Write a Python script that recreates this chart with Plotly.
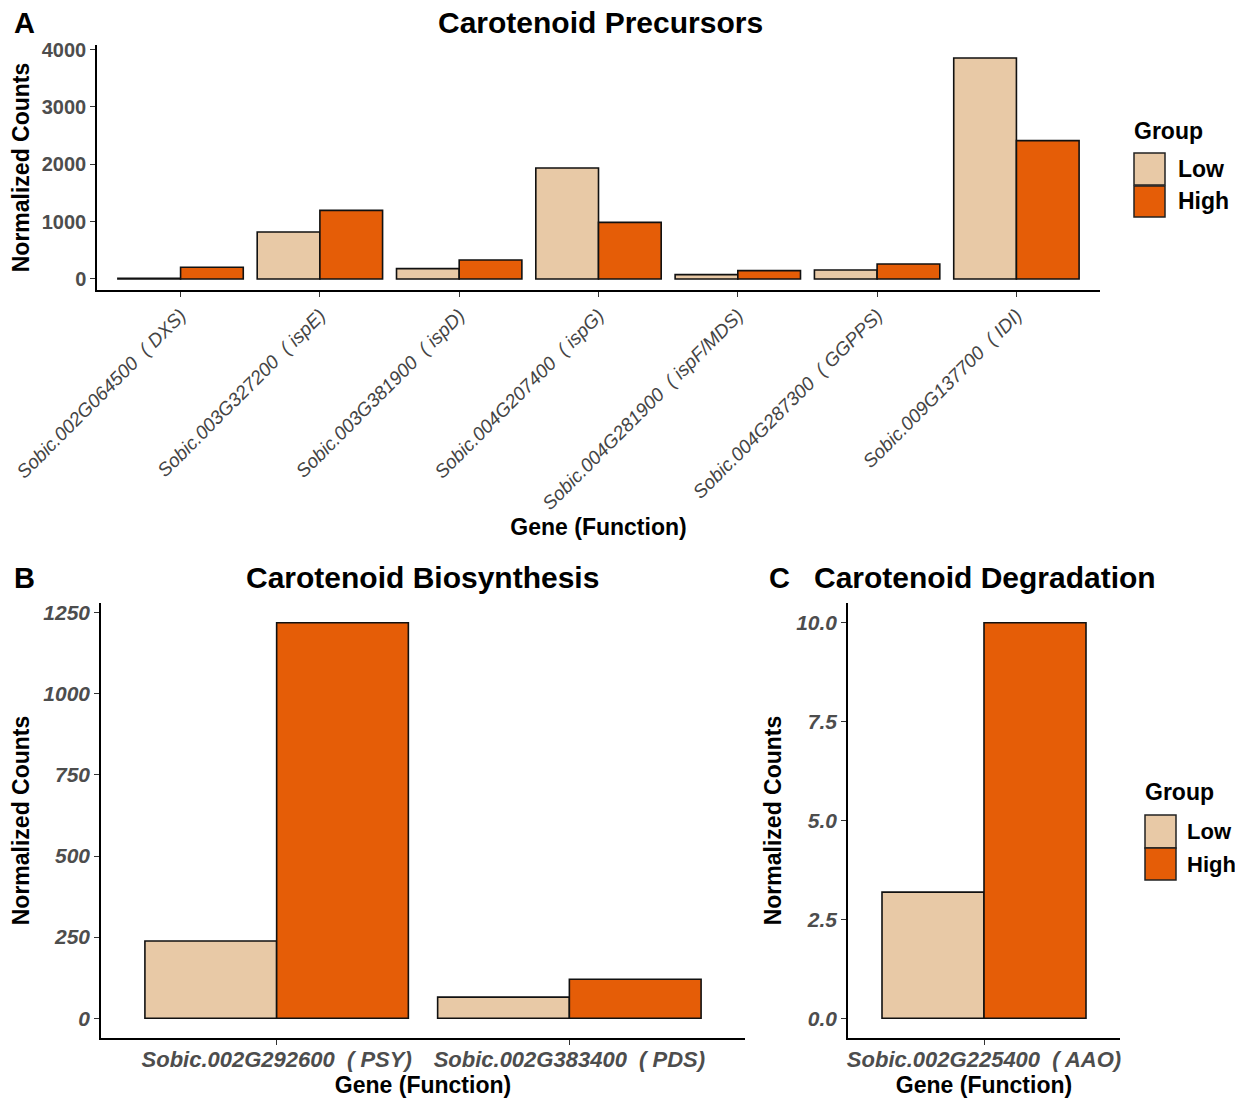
import plotly.graph_objects as go

# ---------------- data ----------------
groups = ["Low", "High"]
colors = {"Low": "#E8C9A6", "High": "#E55D07"}

genes_a = ["Sobic.002G064500  ( DXS)", "Sobic.003G327200  ( ispE)", "Sobic.003G381900  ( ispD)",
           "Sobic.004G207400  ( ispG)", "Sobic.004G281900  ( ispF/MDS)", "Sobic.004G287300  ( GGPPS)",
           "Sobic.009G137700  ( IDI)"]
low_a = [10, 819, 180, 1936, 76, 157, 3854]
high_a = [204, 1197, 331, 988, 145, 262, 2412]

genes_b = ["Sobic.002G292600  ( PSY)", "Sobic.002G383400  ( PDS)"]
low_b = [238, 65]
high_b = [1219, 120]

genes_c = ["Sobic.002G225400  ( AAO)"]
low_c = [3.19]
high_c = [10.0]

FONT = "Liberation Sans, Arial, sans-serif"
OFF = 8  # page body margin
W, H = 1243 - 2 * OFF, 1099 - OFF

fig = go.Figure()

def add_bars(cats, low, high, xa, ya):
    for g, vals in (("Low", low), ("High", high)):
        fig.add_trace(go.Bar(x=cats, y=vals, name=g, marker=dict(color=colors[g], line=dict(color="#111111", width=1.6)),
                             xaxis=xa, yaxis=ya, showlegend=False, offsetgroup=g))

add_bars(genes_a, low_a, high_a, "x", "y")
add_bars(genes_b, low_b, high_b, "x2", "y2")
add_bars(genes_c, low_c, high_c, "x3", "y3")

def px_x(v):
    return (v - OFF) / W

def px_y(v):
    return 1 - (v - OFF) / H

axis_common = dict(showline=True, linecolor="black", linewidth=1.5, ticks="outside", ticklen=5,
                   tickcolor="#333333", tickwidth=1.2, showgrid=False, zeroline=False, automargin=False)

bold_title = dict(family=FONT, size=23, color="black", weight="bold")

fig.update_layout(
    template="none",
    width=W, height=H, margin=dict(l=0, r=0, t=0, b=0),
    plot_bgcolor="white", paper_bgcolor="white",
    barmode="group", bargap=0.1, bargroupgap=0,
    font=dict(family=FONT),
    xaxis=dict(domain=[px_x(97), px_x(1100)], anchor="y", type="category",
               range=[-0.6, len(genes_a) - 0.4], tickangle=-45,
               tickfont=dict(family=FONT, size=19, color="#444444", style="italic"),
               title=dict(text="Gene (Function)", font=bold_title, standoff=2), **axis_common),
    yaxis=dict(domain=[px_y(290), px_y(45)], anchor="x", range=[-192, 4080],
               tickvals=[0, 1000, 2000, 3000, 4000],
               tickfont=dict(family=FONT, size=20, color="#4D4D4D", weight="bold"),
               title=dict(text="Normalized Counts", font=bold_title, standoff=6), **axis_common),
    xaxis2=dict(domain=[px_x(101), px_x(745)], anchor="y2", type="category",
                range=[-0.6, len(genes_b) - 0.4], ticklabelstandoff=-4,
                tickfont=dict(family=FONT, size=22, color="#4D4D4D", style="italic", weight="bold"),
                title=dict(text="Gene (Function)", font=bold_title, standoff=0), **axis_common),
    yaxis2=dict(domain=[px_y(1038), px_y(603)], anchor="x2", range=[-61, 1280],
                tickvals=[0, 250, 500, 750, 1000, 1250],
                tickfont=dict(family=FONT, size=21, color="#4D4D4D", style="italic", weight="bold"),
                title=dict(text="Normalized Counts", font=bold_title, standoff=8), **axis_common),
    xaxis3=dict(domain=[px_x(848), px_x(1120)], anchor="y3", type="category",
                range=[-0.6, len(genes_c) - 0.4], ticklabelstandoff=-4,
                tickfont=dict(family=FONT, size=22, color="#4D4D4D", style="italic", weight="bold"),
                title=dict(text="Gene (Function)", font=bold_title, standoff=0), **axis_common),
    yaxis3=dict(domain=[px_y(1038), px_y(603)], anchor="x3", range=[-0.5, 10.5],
                tickvals=[0, 2.5, 5, 7.5, 10], ticktext=["0.0", "2.5", "5.0", "7.5", "10.0"],
                tickfont=dict(family=FONT, size=21, color="#4D4D4D", style="italic", weight="bold"),
                title=dict(text="Normalized Counts", font=bold_title, standoff=8), **axis_common),
)

# titles and panel letters
def ann(text, x, y, size, xanchor="center", color="black", height=None):
    fig.add_annotation(text=text, x=px_x(x), y=px_y(y), xref="paper", yref="paper", showarrow=False,
                       xanchor=xanchor, yanchor="middle", height=height,
                       font=dict(family=FONT, size=size, color=color, weight="bold"))

ann("Carotenoid Precursors", 600, 22, 30, height=28)
ann("Carotenoid Biosynthesis", 422, 577, 30)
ann("Carotenoid Degradation", 985, 577, 30)
ann("A", 12, 23, 29, xanchor="left", height=28)
ann("B", 12, 578, 29, xanchor="left")
ann("C", 767, 578, 29, xanchor="left")

# legends
def legend(x0, ytitle, ykeys, size, gap):
    ann("Group", x0 - 2, ytitle, 23, xanchor="left")
    for g, (ya, yb) in zip(groups, ykeys):
        fig.add_shape(type="rect", xref="paper", yref="paper", x0=px_x(x0), x1=px_x(x0 + 31),
                      y0=px_y(yb), y1=px_y(ya), fillcolor=colors[g], line=dict(color="#222222", width=1.5))
        ann(g, x0 + gap, (ya + yb) / 2, size, xanchor="left")

legend(1134, 131, [(153, 185), (186, 217)], 23, 42)
legend(1145, 792, [(815, 848), (848, 880)], 22, 40)

fig.write_html("out.html")
